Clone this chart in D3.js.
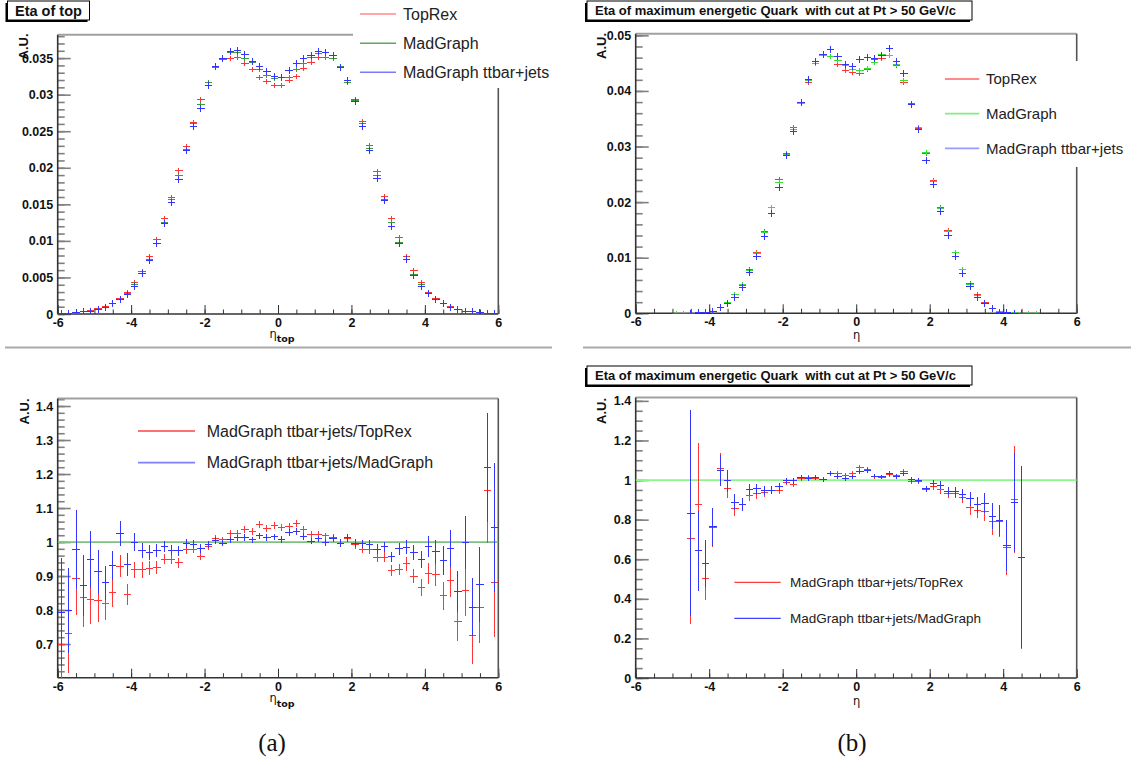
<!DOCTYPE html>
<html><head><meta charset="utf-8">
<script src="https://cdn.jsdelivr.net/npm/d3@7"></script>
<style>
html,body{margin:0;padding:0;background:#fff;}
svg{display:block;font-family:"Liberation Sans",Arial,Helvetica,sans-serif;}
</style></head><body>
<svg id="c" width="1131" height="762"></svg>
<script>
// ---------- data ----------
const etaBins = [-5.9,-5.7,-5.5,-5.3,-5.1,-4.9,-4.7,-4.5,-4.3,-4.1,-3.9,-3.7,-3.5,-3.3,-3.1,-2.9,-2.7,-2.5,-2.3,-2.1,
  -1.9,-1.7,-1.5,-1.3,-1.1,-0.9,-0.7,-0.5,-0.3,-0.1,0.1,0.3,0.5,0.7,0.9,1.1,1.3,1.5,1.7,1.9,
  2.1,2.3,2.5,2.7,2.9,3.1,3.3,3.5,3.7,3.9,4.1,4.3,4.5,4.7,4.9,5.1,5.3,5.5,5.7,5.9];
const binWidth = 0.2;

const xTickValues = [-6,-4,-2,0,2,4,6];
const xTickLabels = ["-6","-4","-2","0","2","4","6"];

// (a) top: eta of top
const topA_TopRex = [0.00005,0.0001,0.0002,0.0003,0.0005, 0.0007,0.0010,0.0015,0.0021,0.0030,
  0.0043,0.0058,0.0078,0.0102,0.0130, 0.0160,0.0196,0.0229,0.0262,0.0294,
  0.0317,0.0337,0.0348,0.0350,0.0351, 0.0343,0.0335,0.0323,0.0318,0.0312,
  0.0312,0.0319,0.0325,0.0336,0.0344, 0.0351,0.0351,0.0350,0.0337,0.0316,
  0.0293,0.0263,0.0230,0.0195,0.0161, 0.0131,0.0104,0.0079,0.0059,0.0043,
  0.0030,0.0021,0.0015,0.0010,0.0006, 0.0004,0.0003,0.0002,0.0001,0.00005];
const topA_MadGraph = [0.00005,0.0001,0.0002,0.0003,0.0004, 0.0006,0.0009,0.0014,0.0020,0.0028,
  0.0040,0.0055,0.0074,0.0097,0.0125, 0.0156,0.0190,0.0225,0.0260,0.0287,
  0.0316,0.0338,0.0350,0.0358,0.0357, 0.0350,0.0344,0.0334,0.0326,0.0322,
  0.0323,0.0324,0.0334,0.0343,0.0351, 0.0356,0.0358,0.0350,0.0338,0.0316,
  0.0292,0.0260,0.0227,0.0190,0.0156, 0.0125,0.0098,0.0075,0.0054,0.0040,
  0.0028,0.0020,0.0014,0.0009,0.0006, 0.0004,0.0003,0.0002,0.0001,0.00005];
const topA_Jets = [0.00005,0.0001,0.0002,0.0003,0.0004, 0.0006,0.0009,0.0014,0.0020,0.0027,
  0.0038,0.0055,0.0073,0.0096,0.0124, 0.0153,0.0184,0.0224,0.0257,0.0281,
  0.0313,0.0339,0.0349,0.0359,0.0361, 0.0355,0.0345,0.0339,0.0331,0.0325,
  0.0324,0.0333,0.0343,0.0349,0.0353, 0.0359,0.0358,0.0353,0.0337,0.0320,
  0.0291,0.0257,0.0224,0.0186,0.0155, 0.0119,0.0096,0.0074,0.0053,0.0038,
  0.0028,0.0020,0.0014,0.0009,0.0006, 0.0004,0.0003,0.0002,0.0001,0.00005];
const topA_yTicks = [0,0.005,0.01,0.015,0.02,0.025,0.03,0.035];
const topA_yLabels = ["0","0.005","0.01","0.015","0.02","0.025","0.03","0.035"];

// (b) top: eta of maximum energetic quark
const topB_TopRex = [null,null,null,null,null, 0,0,0.00003,0.00008,0.0002,
  0.0003,0.0010,0.0019,0.0033,0.0050, 0.0079,0.0110,0.0147,0.0191,0.0240,
  0.0287,0.0334,0.0377,0.0415,0.0449, 0.0463,0.0462,0.0448,0.0437,0.0434,
  0.0432,0.0439,0.0456,0.0459,0.0463, 0.0445,0.0415,0.0378,0.0333,0.0288,
  0.0239,0.0191,0.0149,0.0110,0.0078, 0.0054,0.0033,0.0019,0.0009,0.0004,
  0.0002,0.0001,0.00003,0,0.00005, null,null,null,null,null];
const topB_MadGraph = [null,null,null,null,null, 0,0,0.00003,0.0001,0.0002,
  0.0003,0.0010,0.0019,0.0033,0.0052, 0.0077,0.0108,0.0146,0.0191,0.0235,
  0.0285,0.0331,0.0377,0.0418,0.0449, 0.0463,0.0462,0.0455,0.0445,0.0439,
  0.0437,0.0440,0.0452,0.0465,0.0463, 0.0447,0.0418,0.0375,0.0334,0.0289,
  0.0237,0.0188,0.0147,0.0109,0.0078, 0.0052,0.0032,0.0018,0.0009,0.0004,
  0.0002,0.0001,0.00003,0,0, null,null,null,null,null];
const topB_Jets = [null,null,null,null,null, null,null,0,0.0001,0.0002,
  0.0004,0.0010,0.0018,0.0029,0.0047, 0.0074,0.0102,0.0138,0.0180,0.0227,
  0.0284,0.0327,0.0379,0.0420,0.0453, 0.0465,0.0475,0.0462,0.0447,0.0444,
  0.0456,0.0460,0.0459,0.0463,0.0476, 0.0453,0.0431,0.0376,0.0331,0.0275,
  0.0232,0.0183,0.0140,0.0103,0.0072, 0.0048,0.0029,0.0017,0.0009,0.0002,
  0.0001,0.00005,0,null,null, null,null,null,null,null];
const topB_yTicks = [0,0.01,0.02,0.03,0.04,0.05];
const topB_yLabels = ["0","0.01","0.02","0.03","0.04","0.05"];

// (a) bottom: ratios
const ratioA_TopRex = [0.700,0.731,0.893,0.836,0.830, 0.827,0.819,0.853,0.929,0.846,
  0.918,0.918,0.923,0.925,0.950, 0.950,0.939,0.977,0.979,0.958,
  0.987,1.009,1.006,1.026,1.026, 1.038,1.031,1.052,1.040,1.048,
  1.042,1.046,1.055,1.036,1.023, 1.022,1.018,1.012,0.997,1.011,
  0.992,0.979,0.977,0.955,0.955, 0.917,0.919,0.936,0.900,0.865,
  0.907,0.904,0.842,0.887,0.767, 0.857,0.725,0.807,1.152,0.880];
const ratioA_TopRexErr = [0.200,0.116,0.108,0.085,0.072, 0.062,0.048,0.043,0.032,0.030,
  0.024,0.023,0.020,0.018,0.016, 0.015,0.014,0.013,0.012,0.012,
  0.011,0.011,0.010,0.010,0.010, 0.010,0.010,0.010,0.010,0.010,
  0.010,0.010,0.010,0.010,0.010, 0.010,0.010,0.011,0.011,0.011,
  0.012,0.012,0.013,0.014,0.015, 0.016,0.017,0.020,0.021,0.025,
  0.031,0.034,0.041,0.050,0.057, 0.074,0.083,0.105,0.155,0.160];
const ratioA_MadGraph = [0.794,0.800,0.978,0.873,0.949, 0.912,0.880,0.931,1.025,0.934,
  1.000,0.975,0.969,0.974,0.987, 0.976,0.974,0.995,0.993,0.981,
  0.993,1.004,0.997,1.006,1.012, 1.014,1.006,1.018,1.014,1.015,
  1.007,1.027,1.031,1.017,1.003, 1.009,0.998,1.011,0.997,1.012,
  0.997,0.995,0.993,0.979,0.986, 0.956,0.980,0.985,0.969,0.949,
  0.988,0.971,0.945,0.981,0.855, 1.000,0.808,0.875,1.219,1.042];
const ratioA_MadGraphErr = [0.160,0.125,0.117,0.090,0.083, 0.065,0.050,0.043,0.037,0.033,
  0.026,0.023,0.021,0.019,0.017, 0.015,0.014,0.013,0.012,0.012,
  0.011,0.011,0.010,0.010,0.010, 0.010,0.010,0.010,0.010,0.010,
  0.010,0.010,0.010,0.010,0.010, 0.010,0.010,0.011,0.011,0.011,
  0.012,0.012,0.013,0.014,0.015, 0.016,0.017,0.020,0.022,0.026,
  0.031,0.035,0.042,0.055,0.060, 0.078,0.085,0.110,0.160,0.190];
const ratioA_yTicks = [0.7,0.8,0.9,1,1.1,1.2,1.3,1.4];
const ratioA_yLabels = ["0.7","0.8","0.9","1","1.1","1.2","1.3","1.4"];
const ratioA_reference = 1;

// (b) bottom: ratios
const ratioB_TopRex = [null,null,null,null,null, null,null,0.705,0.877,0.503,
  0.760,1.056,0.958,0.857,0.874, 0.920,0.930,0.937,0.947,0.947,
  0.988,0.980,1.006,1.011,1.010, 1.001,1.033,1.035,1.023,1.033,
  1.065,1.052,1.018,1.015,1.028, 1.021,1.042,0.991,0.994,0.954,
  0.966,0.952,0.932,0.933,0.913, 0.859,0.847,0.842,0.791,0.791,
  0.659,0.901,0.609,null,null, null,null,null,null,null];
const ratioB_TopRexErr = [null,null,null,null,null, null,null,0.43,0.31,0.11,
  0.097,0.080,0.050,0.040,0.032, 0.027,0.025,0.022,0.020,0.018,
  0.015,0.014,0.013,0.012,0.012, 0.012,0.012,0.012,0.012,0.012,
  0.012,0.012,0.012,0.012,0.012, 0.012,0.012,0.013,0.014,0.015,
  0.018,0.020,0.022,0.025,0.028, 0.035,0.040,0.050,0.070,0.080,
  0.140,0.270,0.460,null,null, null,null,null,null,null];
const ratioB_MadGraph = [null,null,null,null,null, null,null,0.833,0.642,0.579,
  0.764,1.050,0.997,0.887,0.878, 0.950,0.957,0.948,0.948,0.965,
  0.997,0.996,1.011,1.008,1.011, 1.001,1.035,1.018,1.006,1.016,
  1.045,1.050,1.020,1.016,1.032, 1.018,1.033,1.003,0.998,0.955,
  0.984,0.974,0.944,0.940,0.927, 0.905,0.874,0.884,0.817,0.795,
  0.670,0.886,0.610,null,null, null,null,null,null,null];
const ratioB_MadGraphErr = [null,null,null,null,null, null,null,0.52,0.20,0.12,
  0.097,0.078,0.055,0.040,0.032, 0.028,0.025,0.022,0.020,0.018,
  0.015,0.014,0.013,0.012,0.012, 0.012,0.012,0.012,0.012,0.012,
  0.012,0.012,0.012,0.012,0.012, 0.012,0.012,0.013,0.014,0.015,
  0.018,0.020,0.022,0.025,0.028, 0.035,0.040,0.050,0.065,0.080,
  0.130,0.250,0.460,null,null, null,null,null,null,null];
const ratioB_yTicks = [0,0.2,0.4,0.6,0.8,1,1.2,1.4];
const ratioB_yLabels = ["0","0.2","0.4","0.6","0.8","1","1.2","1.4"];
const ratioB_reference = 1;

const legendTop = ["TopRex","MadGraph","MadGraph ttbar+jets"];
const legendRatio = ["MadGraph ttbar+jets/TopRex","MadGraph ttbar+jets/MadGraph"];
const titleA = "Eta of top";
const titleB = "Eta of maximum energetic Quark  with cut at Pt > 50 GeV/c";

// ---------- drawing ----------
const svg = d3.select("#c");
svg.append("rect").attr("width",1131).attr("height",762).attr("fill","#fff");
let clipN = 0;

function panel(p){
  const g = svg.append("g");
  const x = d3.scaleLinear().domain([-6,6]).range([p.left,p.right]);
  const y = d3.scaleLinear().domain(p.yDomain).range([p.bottom,p.top]);
  const cid = "clip"+(clipN++);
  g.append("clipPath").attr("id",cid).append("rect")
    .attr("x",p.left).attr("y",p.top).attr("width",p.right-p.left).attr("height",p.bottom-p.top);

  // y minor ticks
  g.append("g").attr("transform",`translate(${p.left},0)`)
    .call(d3.axisLeft(y).tickValues(p.yMinor).tickSize(-7).tickFormat(""))
    .call(s=>s.select(".domain").remove())
    .selectAll("line").attr("stroke","#808080").attr("stroke-width",1.6);
  // y major ticks
  const ya = g.append("g").attr("transform",`translate(${p.left},0)`)
    .call(d3.axisLeft(y).tickValues(p.yTicks).tickSizeInner(-13).tickSizeOuter(0).tickPadding(4.5)
      .tickFormat((d,i)=>p.yLabels[i]));
  ya.select(".domain").remove();
  ya.selectAll("line").attr("stroke","#808080").attr("stroke-width",1.6);
  ya.selectAll("text").attr("font-family","Liberation Sans, Arial, sans-serif")
    .attr("font-size",12.5).attr("font-weight","bold").attr("fill","#111");

  // x minor ticks
  g.append("g").attr("transform",`translate(0,${p.bottom})`)
    .call(d3.axisBottom(x).tickValues(d3.range(-6,6.01,0.5)).tickSize(-4.5).tickFormat(""))
    .call(s=>s.select(".domain").remove())
    .selectAll("line").attr("stroke","#333").attr("stroke-width",1);
  const xa = g.append("g").attr("transform",`translate(0,${p.bottom})`)
    .call(d3.axisBottom(x).tickValues(xTickValues).tickSizeInner(-9).tickSizeOuter(0).tickPadding(4)
      .tickFormat((d,i)=>xTickLabels[i]));
  xa.select(".domain").remove();
  xa.selectAll("line").attr("stroke","#333").attr("stroke-width",1);
  xa.selectAll("text").attr("font-family","Liberation Sans, Arial, sans-serif")
    .attr("font-size",12.5).attr("font-weight","bold").attr("fill","#111");

  // frame
  g.append("line").attr("x1",p.left).attr("x2",p.right).attr("y1",p.top).attr("y2",p.top)
    .attr("stroke","#a0a0a0").attr("stroke-width",2);
  g.append("line").attr("x1",p.right).attr("x2",p.right).attr("y1",p.top).attr("y2",p.bottom)
    .attr("stroke","#555").attr("stroke-width",1.6);
  g.append("line").attr("x1",p.left).attr("x2",p.left).attr("y1",p.top).attr("y2",p.bottom)
    .attr("stroke","#333").attr("stroke-width",1.6);
  g.append("line").attr("x1",p.left).attr("x2",p.right).attr("y1",p.bottom).attr("y2",p.bottom)
    .attr("stroke","#333").attr("stroke-width",1.6);

  const data = g.append("g").attr("clip-path",`url(#${cid})`);
  if(p.reference!=null){
    data.append("line").attr("x1",p.left).attr("x2",p.right)
      .attr("y1",y(p.reference)).attr("y2",y(p.reference))
      .attr("stroke",p.refColor).attr("stroke-width",1.8);
  }
  p.series.forEach(s=>{
    const pts = etaBins.map((c,i)=>({c, v:s.values[i], e: s.errors? s.errors[i]: null}))
      .filter(d=>d.v!=null);
    const sg = data.append("g").attr("stroke",s.color).attr("stroke-width",1).attr("shape-rendering","crispEdges");
    sg.selectAll("line.h").data(pts).join("line").attr("class","h")
      .attr("x1",d=>x(d.c-binWidth/2)).attr("x2",d=>x(d.c+binWidth/2))
      .attr("y1",d=>y(d.v)).attr("y2",d=>y(d.v));
    sg.selectAll("line.v").data(pts).join("line").attr("class","v")
      .attr("x1",d=>x(d.c)).attr("x2",d=>x(d.c))
      .attr("y1",d=> d.e!=null ? y(d.v-d.e) : y(d.v)+s.half)
      .attr("y2",d=> d.e!=null ? y(d.v+d.e) : y(d.v)-s.half);
  });

  // legend
  if(p.legendBox){
    g.append("rect").attr("x",p.legendBox[0]).attr("y",p.legendBox[1])
      .attr("width",p.legendBox[2]).attr("height",p.legendBox[3]).attr("fill","#fff");
  }
  p.legend.items.forEach((it,i)=>{
    const yy = p.legend.y[i];
    g.append("line").attr("x1",p.legend.x1).attr("x2",p.legend.x2).attr("y1",yy).attr("y2",yy)
      .attr("stroke",it.color).attr("stroke-width",p.legend.lw);
    g.append("text").attr("x",p.legend.tx).attr("y",yy).attr("dy","0.36em")
      .attr("font-size",p.legend.fs).attr("fill","#222").text(it.label);
  });

  // axis titles
  const xt = g.append("text").attr("x",p.xTitle[0]).attr("y",p.xTitle[1])
    .attr("font-family","DejaVu Sans, sans-serif").attr("font-size",11.5).attr("fill","#111");
  xt.append("tspan").text("η");
  if(p.sub){ xt.append("tspan").attr("dy",4.5).attr("font-size",9.5).attr("font-weight","bold").text(p.sub); }
  g.append("text").attr("transform",`translate(${p.yTitle[0]},${p.yTitle[1]}) rotate(-90)`)
    .attr("text-anchor","end").attr("font-size",13).attr("font-weight","bold").attr("fill","#111").text("A.U.");
}

function titleBox(x,y,w,h,text,fs,tx){
  svg.append("rect").attr("x",x-2).attr("y",y+2).attr("width",w).attr("height",h).attr("fill","#000");
  svg.append("rect").attr("x",x).attr("y",y).attr("width",w).attr("height",h)
    .attr("fill","#fff").attr("stroke","#000").attr("stroke-width",1);
  svg.append("text").attr("x",tx).attr("y",y+h/2).attr("dy","0.36em").attr("font-size",fs)
    .attr("font-weight","bold").attr("fill","#111").style("white-space","pre").text(text);
}

const RED="#ff3434", BLUE="#3434ff";

panel({left:57.7,right:498.3,top:34.7,bottom:314,yDomain:[0,0.0382],
  yTicks:topA_yTicks,yLabels:topA_yLabels,yMinor:d3.range(0,0.0382,0.001),
  series:[{values:topA_TopRex,color:RED,half:2.5},{values:topA_MadGraph,color:"#3c9c3c",half:2.5},{values:topA_Jets,color:BLUE,half:3.5}],
  legendBox:[353,0,210,88],
  legend:{x1:360,x2:396,tx:403,y:[14,43.3,72.3],fs:16,lw:1.6,
    items:[{label:legendTop[0],color:"#ff8a8a"},{label:legendTop[1],color:"#5aa85a"},{label:legendTop[2],color:"#7a7aff"}]},
  xTitle:[269.5,337.5],sub:"top",yTitle:[27.5,33.5]});

panel({left:635.7,right:1076.7,top:33.7,bottom:313.3,yDomain:[0,0.0503],
  yTicks:topB_yTicks,yLabels:topB_yLabels,yMinor:d3.range(0,0.0503,0.002),
  series:[{values:topB_TopRex,color:RED,half:2.5},{values:topB_MadGraph,color:"#33e033",half:2.5},{values:topB_Jets,color:BLUE,half:3.5}],
  legendBox:[930,61,170,106],
  legend:{x1:945,x2:979.3,tx:986,y:[79,113.7,148.3],fs:15,lw:1.8,
    items:[{label:legendTop[0],color:"#ff8a8a"},{label:legendTop[1],color:"#80f080"},{label:legendTop[2],color:"#9a9aff"}]},
  xTitle:[853,339],sub:null,yTitle:[606,33]});

panel({left:57.7,right:498.3,top:398.4,bottom:677.7,yDomain:[0.601,1.4224],
  yTicks:ratioA_yTicks,yLabels:ratioA_yLabels,yMinor:d3.range(0.62,1.421,0.02),
  reference:ratioA_reference,refColor:"#80c080",
  series:[{values:ratioA_TopRex,errors:ratioA_TopRexErr,color:RED},{values:ratioA_MadGraph,errors:ratioA_MadGraphErr,color:BLUE}],
  legend:{x1:138,x2:195,tx:206.7,y:[431,462.7],fs:16,lw:1.8,
    items:[{label:legendRatio[0],color:"#ff7070"},{label:legendRatio[1],color:"#8080ff"}]},
  xTitle:[269.5,702],sub:"top",yTitle:[29,398.5]});

panel({left:635.7,right:1076.7,top:397.5,bottom:678,yDomain:[0,1.417],
  yTicks:ratioB_yTicks,yLabels:ratioB_yLabels,yMinor:d3.range(0,1.417,0.05),
  reference:ratioB_reference,refColor:"#8cf58c",
  series:[{values:ratioB_TopRex,errors:ratioB_TopRexErr,color:RED},{values:ratioB_MadGraph,errors:ratioB_MadGraphErr,color:BLUE}],
  legend:{x1:734.3,x2:780.7,tx:790,y:[582.3,618.3],fs:13.5,lw:1.3,
    items:[{label:legendRatio[0],color:"#ff4040"},{label:legendRatio[1],color:"#4040ff"}]},
  xTitle:[853,705],sub:null,yTitle:[606,398]});

// separators
svg.append("line").attr("x1",5).attr("x2",552).attr("y1",347.5).attr("y2",347.5).attr("stroke","#aaa").attr("stroke-width",2);
svg.append("line").attr("x1",583).attr("x2",1131).attr("y1",347.5).attr("y2",347.5).attr("stroke","#aaa").attr("stroke-width",2);

titleBox(7.5,1,82,19,titleA,14.5,15);
titleBox(587,1,385,19,titleB,13,595);
titleBox(587,366,385,19,titleB,13,595);

// captions
svg.append("text").attr("x",272).attr("y",751).attr("text-anchor","middle")
  .attr("font-family","Liberation Serif, DejaVu Serif, serif").attr("font-size",25).attr("fill","#111").text("(a)");
svg.append("text").attr("x",852).attr("y",751).attr("text-anchor","middle")
  .attr("font-family","Liberation Serif, DejaVu Serif, serif").attr("font-size",25).attr("fill","#111").text("(b)");
</script>
</body></html>
